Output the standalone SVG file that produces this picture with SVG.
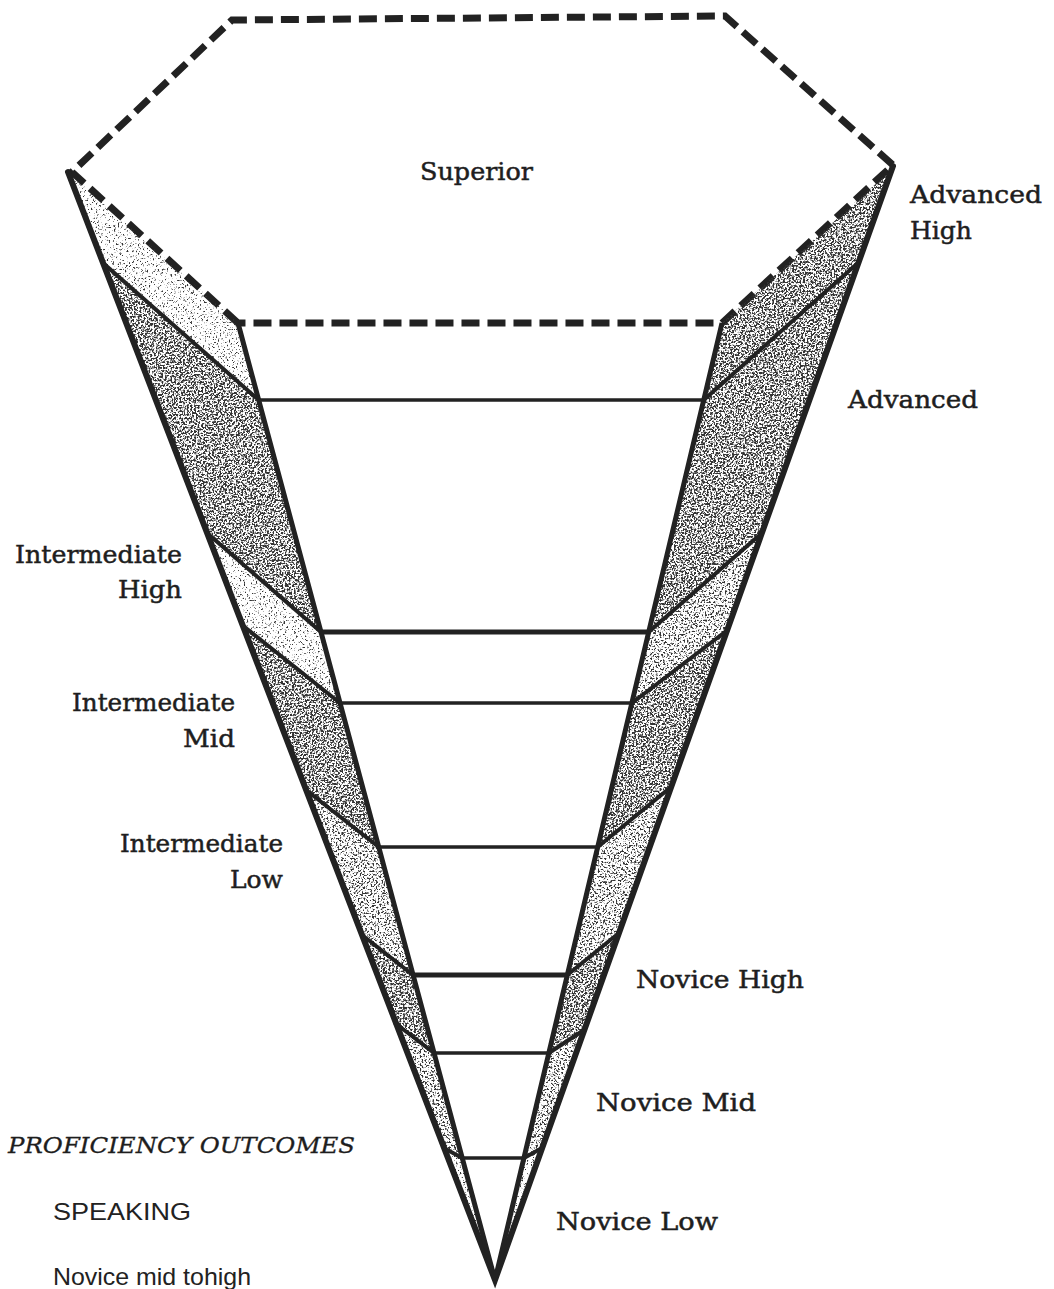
<svg xmlns="http://www.w3.org/2000/svg" width="1054" height="1289" viewBox="0 0 1054 1289">
<style>
.lbl{font-family:"DejaVu Serif","Liberation Serif",serif;font-size:25px;fill:#1e1e1e;stroke:#1e1e1e;stroke-width:0.5}
.ital{font-family:"DejaVu Serif","Liberation Serif",serif;font-style:italic;font-size:23px;fill:#1e1e1e;stroke:#1e1e1e;stroke-width:0.3}
.sans{font-family:"Liberation Sans",Arial,sans-serif;font-size:24px;fill:#222}
.outer{stroke:#222;stroke-width:6;fill:none;stroke-linecap:round}
.inner{stroke:#222;stroke-width:5;fill:none}
.diag{stroke:#222;stroke-width:4;fill:none;stroke-linecap:round}
.hz{stroke:#222;stroke-width:3.5;fill:none}
.hzb{stroke:#222;stroke-width:5;fill:none}
.dash{stroke:#222;stroke-width:7;fill:none;stroke-dasharray:18 8;stroke-linejoin:miter}
.dk{fill:#333;filter:url(#stDark)}
.md{fill:#333;filter:url(#stMed)}
.lt{fill:#333;filter:url(#stLight)}
</style>
<defs>
<filter id="stDark" color-interpolation-filters="sRGB">
<feTurbulence type="fractalNoise" baseFrequency="0.55" numOctaves="2" seed="2" result="n"/>
<feColorMatrix in="n" type="matrix" values="0 0 0 0 0 0 0 0 0 0 0 0 0 0 0 7 0 0 0 -3.1" result="m"/>
<feComposite in="SourceGraphic" in2="m" operator="in"/>
</filter>
<filter id="stMed" color-interpolation-filters="sRGB">
<feTurbulence type="fractalNoise" baseFrequency="0.55" numOctaves="2" seed="5" result="n"/>
<feColorMatrix in="n" type="matrix" values="0 0 0 0 0 0 0 0 0 0 0 0 0 0 0 7 0 0 0 -3.6" result="m"/>
<feComposite in="SourceGraphic" in2="m" operator="in"/>
</filter>
<filter id="stLight" color-interpolation-filters="sRGB">
<feTurbulence type="fractalNoise" baseFrequency="0.55" numOctaves="2" seed="9" result="n"/>
<feColorMatrix in="n" type="matrix" values="0 0 0 0 0 0 0 0 0 0 0 0 0 0 0 7 0 0 0 -4.1" result="m"/>
<feComposite in="SourceGraphic" in2="m" operator="in"/>
</filter>
</defs>
<rect width="1054" height="1289" fill="#fff"/>

<g id="superior">
<path class="dash" d="M238,323 L72,172 L232,20 L725,16 L893,165 L722,323 Z"/>
<text class="lbl" x="420" y="180" textLength="113" lengthAdjust="spacingAndGlyphs">Superior</text>
</g>

<g id="advanced-high">
<polygon class="lt" points="68,172 238,323 258.7,400 103,263"/>
<polygon class="dk" points="893,168 722,323 703.7,400 859,262"/>
<text class="lbl" x="910" y="203" textLength="132" lengthAdjust="spacingAndGlyphs">Advanced</text>
<text class="lbl" x="910" y="239" textLength="62" lengthAdjust="spacingAndGlyphs">High</text>
</g>

<g id="advanced">
<polygon class="dk" points="103,263 258.7,400 321,632 207,533"/>
<polygon class="dk" points="859,262 703.7,400 648.7,632 762,533"/>
<text class="lbl" x="848" y="408" textLength="130" lengthAdjust="spacingAndGlyphs">Advanced</text>
</g>

<g id="intermediate-high">
<polygon class="lt" points="207,533 321,632 340,703 242,625"/>
<polygon class="md" points="762,533 648.7,632 632,703 727.6,630"/>
<text class="lbl" x="15" y="563" textLength="167" lengthAdjust="spacingAndGlyphs">Intermediate</text>
<text class="lbl" x="118" y="598" textLength="64" lengthAdjust="spacingAndGlyphs">High</text>
</g>

<g id="intermediate-mid">
<polygon class="dk" points="242,625 340,703 378.7,847 306,790"/>
<polygon class="dk" points="727.6,630 632,703 597.7,847 671,787"/>
<text class="lbl" x="72" y="711" textLength="163" lengthAdjust="spacingAndGlyphs">Intermediate</text>
<text class="lbl" x="183" y="747" textLength="52" lengthAdjust="spacingAndGlyphs">Mid</text>
</g>

<g id="intermediate-low">
<polygon class="md" points="306,790 378.7,847 413,975 362,935"/>
<polygon class="md" points="671,787 597.7,847 567.3,975 619,933"/>
<text class="lbl" x="120" y="852" textLength="163" lengthAdjust="spacingAndGlyphs">Intermediate</text>
<text class="lbl" x="230" y="888" textLength="53" lengthAdjust="spacingAndGlyphs">Low</text>
</g>

<g id="novice-high">
<polygon class="dk" points="362,935 413,975 434,1053 395,1023"/>
<polygon class="dk" points="619,933 567.3,975 548.8,1053 584,1030"/>
<text class="lbl" x="636" y="988" textLength="168" lengthAdjust="spacingAndGlyphs">Novice High</text>
</g>

<g id="novice-mid">
<polygon class="md" points="395,1023 434,1053 462,1158 444,1148"/>
<polygon class="md" points="584,1030 548.8,1053 524,1158 542,1148"/>
<text class="lbl" x="596" y="1111" textLength="160" lengthAdjust="spacingAndGlyphs">Novice Mid</text>
</g>

<g id="novice-low">
<polygon class="lt" points="444,1148 462,1158 495,1280"/>
<polygon class="lt" points="542,1148 524,1158 495,1280"/>
<text class="lbl" x="556" y="1230" textLength="162" lengthAdjust="spacingAndGlyphs">Novice Low</text>
</g>

<g id="connectors">
<path class="outer" d="M68,172 L495,1280 L893,166"/>
<path class="inner" d="M238,323 L495,1280 M722,323 L495,1280"/>
<path class="diag" d="M103,263 L258.7,400 M207,533 L321,632 M242,625 L340,703 M306,790 L378.7,847 M362,935 L413,975 M395,1023 L434,1053 M444,1148 L462,1158"/>
<path class="diag" d="M859,262 L703.7,400 M762,533 L648.7,632 M727.6,630 L632,703 M671,787 L597.7,847 M619,933 L567.3,975 M584,1030 L548.8,1053 M542,1148 L524,1158"/>
<path class="hz" d="M258.7,400 H703.7 M340,703 H632 M378.7,847 H597.7 M434,1053 H548.8"/>
<path class="hzb" d="M321,632 H648.7 M413,975 H567.3"/>
<path class="hz" stroke-width="3" d="M462,1158 H524"/>
</g>

<g id="legend">
<text class="ital" x="8" y="1153" textLength="347" lengthAdjust="spacingAndGlyphs">PROFICIENCY OUTCOMES</text>
<text class="sans" x="53" y="1220" textLength="138" lengthAdjust="spacingAndGlyphs">SPEAKING</text>
<text class="sans" x="53" y="1285" textLength="198" lengthAdjust="spacingAndGlyphs">Novice mid tohigh</text>
</g>
</svg>
